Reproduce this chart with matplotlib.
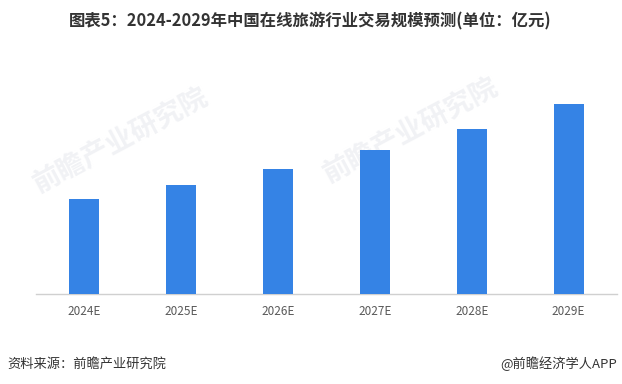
import matplotlib.pyplot as plt
import numpy as np

plt.rcParams['font.family'] = ['Noto Sans CJK SC', 'DejaVu Sans']

# 数据：2024-2029年中国在线旅游行业交易规模预测（亿元，按图估读）
years = ["2024E", "2025E", "2026E", "2027E", "2028E", "2029E"]
scale = [9500, 10900, 12500, 14400, 16500, 19000]

W, H = 622, 384
fig = plt.figure(figsize=(W / 100, H / 100), dpi=100)

# 淡色水印（放在柱子后面）
for (x, y) in [(120, 140), (410, 130)]:
    fig.text(x / W, 1 - y / H, "前瞻产业研究院", fontsize=20, color="#f1f2f5",
             rotation=28, ha="center", va="center", fontweight="bold", zorder=0)

ax = fig.add_axes([36 / W, 1 - 294 / H, (617 - 36) / W, (294 - 70) / H])
ax.set_zorder(2)
ax.patch.set_alpha(0)
x = np.arange(len(years))
ax.bar(x, scale, width=0.31, color="#3583E5", zorder=3)
ax.set_xlim(-0.5, len(years) - 0.5)
ax.set_ylim(0, 19000 * 224 / 190)

for s in ["top", "right", "left"]:
    ax.spines[s].set_visible(False)
ax.spines["bottom"].set_color("#d0d0d0")
ax.spines["bottom"].set_linewidth(1)
ax.set_yticks([])
ax.set_xticks(x)
ax.set_xticklabels(years, fontsize=8.5, color="#595959")
ax.tick_params(axis="x", length=0, pad=8)

fig.text(310 / W, 1 - 21 / H, "图表5：2024-2029年中国在线旅游行业交易规模预测(单位：亿元)",
         fontsize=11.8, fontweight="bold", color="#333333", ha="center", va="center")
fig.text(7 / W, 1 - 364 / H, "资料来源：前瞻产业研究院", fontsize=9.5,
         color="#333333", ha="left", va="center")
fig.text(617 / W, 1 - 364 / H, "@前瞻经济学人APP", fontsize=9.5,
         color="#333333", ha="right", va="center")

fig.savefig("out.png", dpi=100)
